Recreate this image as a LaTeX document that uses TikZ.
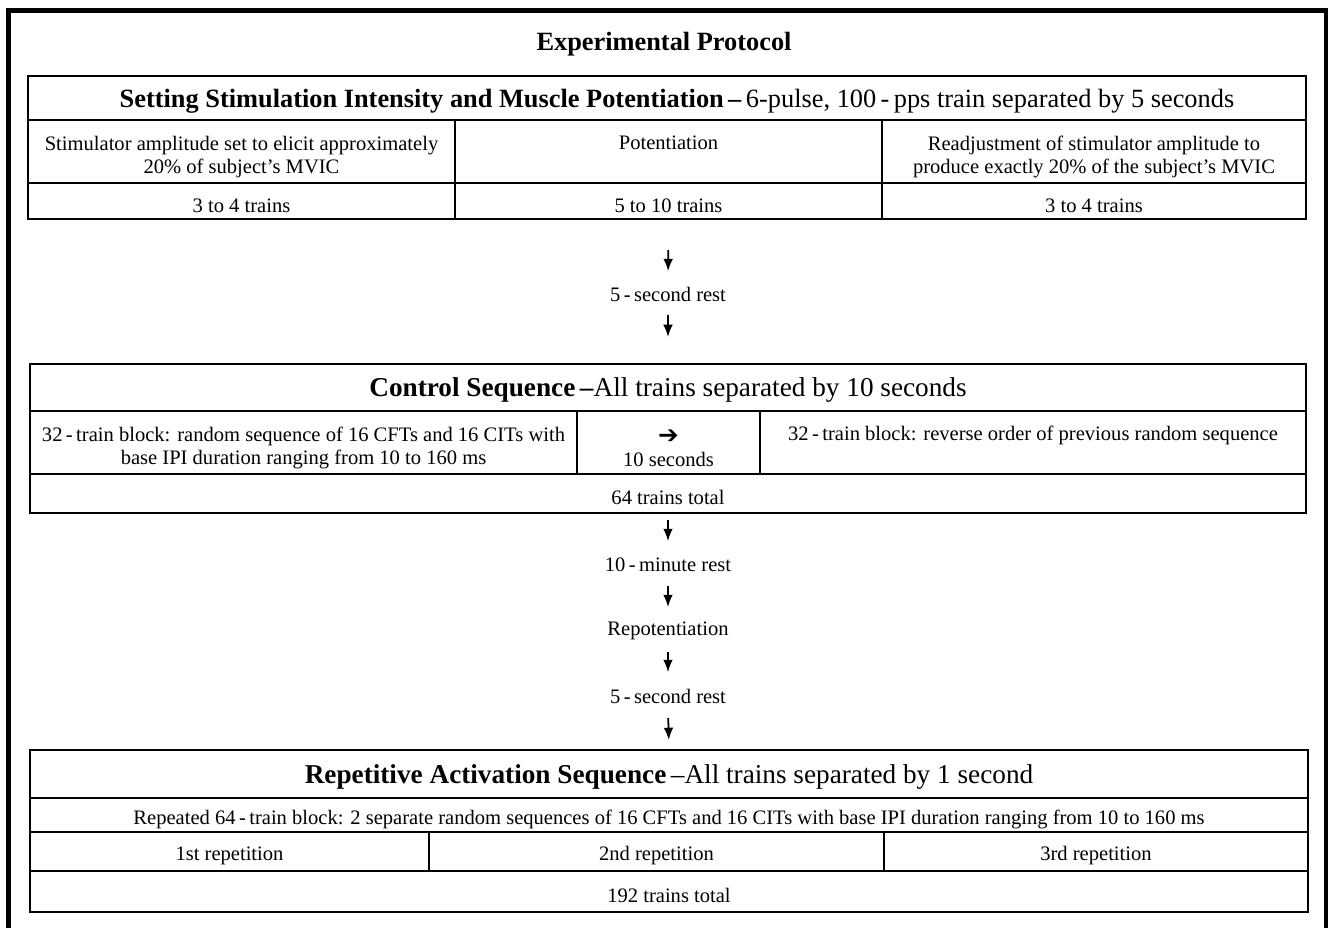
\documentclass[tikz,border=0pt]{standalone}
\usepackage{fontspec}
\setmainfont{Liberation Serif}
\newfontfamily\symfont{DejaVu Sans}
\usetikzlibrary{positioning,arrows.meta}

\begin{document}
\begin{tikzpicture}[>={Latex[length=7pt,width=5.5pt]}, line width=1pt,
  font=\fontsize{11.7}{13.2}\selectfont,
  hdr/.style={draw, anchor=north west, inner sep=0pt, outer sep=0pt, text height=14pt, font=\fontsize{15.5}{18}\selectfont},
  cell/.style={draw, anchor=north west, inner sep=0pt, outer sep=0pt, text height=13pt, align=center},
  twoline/.style={text height=27.8pt},
  rest/.style={inner sep=0pt, minimum height=0.44cm}]
\useasboundingbox (0,0) rectangle (26.56,-18.56);
% outer frame, open at the bottom
\draw[line width=0.1cm] (0.17,-18.56) -- (0.17,-0.21) -- (26.52,-0.21) -- (26.52,-18.56);
\node[font=\fontsize{15}{18}\selectfont\bfseries] (title) at (13.28,-0.88) {Experimental Protocol};

% stimulation intensity and potentiation
\node[hdr, font=\fontsize{15}{18}\selectfont, minimum width=25.56cm, minimum height=0.88cm] (hdr1) at (0.56,-1.52) {\hspace*{0.4cm}\textbf{Setting Stimulation Intensity and Muscle Potentiation\,--}\,6-pulse, 100\,-\,pps train separated by 5 seconds};
\node[cell, twoline, minimum width=8.54cm, minimum height=1.26cm] (set1) at (0.56,-2.40) {Stimulator amplitude set to elicit approximately\\20\% of subject's MVIC};
\node[cell, twoline, minimum width=8.54cm, minimum height=1.26cm] (set2) at (9.10,-2.40) {Potentiation\\\strut};
\node[cell, twoline, minimum width=8.48cm, minimum height=1.26cm] (set3) at (17.64,-2.40) {Readjustment of stimulator amplitude to\\produce exactly 20\% of the subject's MVIC};
\node[cell, minimum width=8.54cm, minimum height=0.72cm] (num1) at (0.56,-3.66) {3 to 4 trains};
\node[cell, minimum width=8.54cm, minimum height=0.72cm] (num2) at (9.10,-3.66) {5 to 10 trains};
\node[cell, minimum width=8.48cm, minimum height=0.72cm] (num3) at (17.64,-3.66) {3 to 4 trains};

\node[rest] (rest1) at (13.36,-5.88) {5\,-\,second rest};

% control sequence
\node[hdr, minimum width=25.52cm, minimum height=0.94cm] (hdr2) at (0.60,-7.28) {\textbf{Control Sequence\,--}All trains separated by 10 seconds};
\node[cell, twoline, minimum width=10.94cm, minimum height=1.26cm] (ctl1) at (0.60,-8.22) {32\,-\,train block: random sequence of 16 CFTs and 16 CITs with\\base IPI duration ranging from 10 to 160 ms};
\node[cell, twoline, minimum width=3.66cm, minimum height=1.26cm] (ctl2) at (11.54,-8.22) {{\symfont\fontsize{14}{13.2}\selectfont ➔}\\10 seconds};
\node[cell, twoline, minimum width=10.92cm, minimum height=1.26cm] (ctl3) at (15.20,-8.22) {32\,-\,train block: reverse order of previous random sequence\\\strut};
\node[cell, minimum width=25.52cm, minimum height=0.78cm] (tot2) at (0.60,-9.48) {64 trains total};

\node[rest] (rest10) at (13.36,-11.30) {10\,-\,minute rest};
\node[rest] (repot)  at (13.36,-12.62) {Repotentiation};
\node[rest] (rest5)  at (13.36,-13.92) {5\,-\,second rest};

% repetitive activation sequence
\node[hdr, minimum width=25.56cm, minimum height=0.96cm] (hdr3) at (0.60,-15.00) {\textbf{Repetitive Activation Sequence}\,--All trains separated by 1 second};
\node[cell, minimum width=25.56cm, minimum height=0.68cm] (blk) at (0.60,-15.96) {Repeated 64\,-\,train block: 2 separate random sequences of 16 CFTs and 16 CITs with base IPI duration ranging from 10 to 160 ms};
\node[cell, minimum width=7.98cm, minimum height=0.78cm] (rep1) at (0.60,-16.64) {1st repetition};
\node[cell, minimum width=9.10cm, minimum height=0.78cm] (rep2) at (8.58,-16.64) {2nd repetition};
\node[cell, minimum width=8.48cm, minimum height=0.78cm] (rep3) at (17.68,-16.64) {3rd repetition};
\node[cell, minimum width=25.56cm, minimum height=0.82cm] (tot3) at (0.60,-17.42) {192 trains total};

\draw[->, shorten <=0.62cm, shorten >=0.22cm] (num2.south) -- (rest1.north);
\draw[->, shorten <=0.18cm, shorten >=0.54cm] (rest1.south) -- (hdr2.north);
\draw[->, shorten <=0.14cm, shorten >=0.24cm] (tot2.south) -- (rest10.north);
\draw[->, shorten <=0.18cm, shorten >=0.24cm] (rest10.south) -- (repot.north);
\draw[->, shorten <=0.18cm, shorten >=0.24cm] (repot.south) -- (rest5.north);
\draw[->, shorten <=0.20cm, shorten >=0.20cm] (rest5.south) -- (hdr3.north);
\end{tikzpicture}
\end{document}
